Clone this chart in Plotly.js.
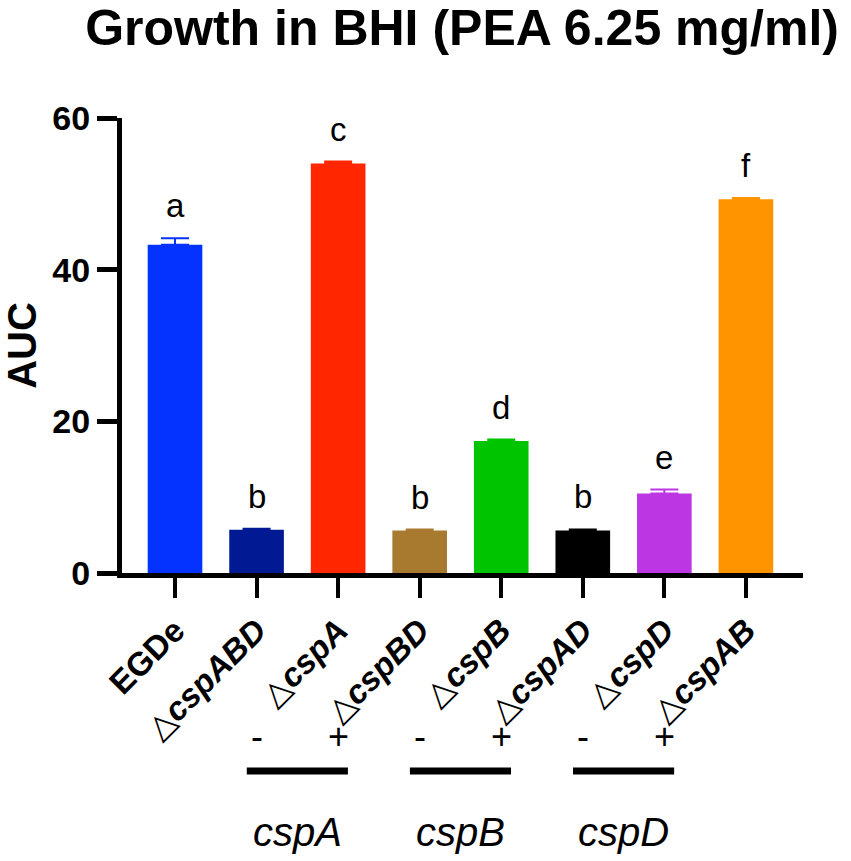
<!DOCTYPE html>
<html>
<head>
<meta charset="utf-8">
<script src="https://cdn.plot.ly/plotly-3.0.1.min.js"></script>
<style>
body { margin: 0; background: #fff; }
#auc-chart { width: 851px; height: 861px; }
</style>
</head>
<body>
<div id="auc-chart"></div>
<script>
const strains = ["EGDe", "ΔcspABD", "ΔcspA", "ΔcspBD", "ΔcspB", "ΔcspAD", "ΔcspD", "ΔcspAB"];
const aucValues = [43.3, 5.7, 54.0, 5.6, 17.4, 5.6, 10.5, 49.3];
const aucErrors = [0.85, 0.15, 0.25, 0.12, 0.2, 0.15, 0.5, 0.15];
const sigLetters = ["a", "b", "c", "b", "d", "b", "e", "f"];
const barColors = ["#0433ff", "#011a93", "#ff2600", "#a87a30", "#00c400", "#000000", "#bc36e3", "#ff9300"];
const tickLabels = [
  "<b>EGDe</b>",
  "△<b><i>cspABD</i></b>",
  "△<b><i>cspA</i></b>",
  "△<b><i>cspBD</i></b>",
  "△<b><i>cspB</i></b>",
  "△<b><i>cspAD</i></b>",
  "△<b><i>cspD</i></b>",
  "△<b><i>cspAB</i></b>"
];
const yTicks = [0, 20, 40, 60];

// complementation groups: gene, strain without (-), strain with (+)
const genes = ["cspA", "cspB", "cspD"];
const minusStrain = [1, 3, 5];
const plusStrain = [2, 4, 6];

const font = "Liberation Sans, Arial, Helvetica, sans-serif";
const xRange = [-0.65, 7.7];

// one trace per bar so each error bar takes its bar's colour
const data = strains.map((s, i) => ({
  x: [s],
  y: [aucValues[i]],
  type: "bar",
  width: 0.67,
  marker: {color: barColors[i], line: {width: 0}},
  error_y: {
    type: "data",
    symmetric: false,
    array: [aucErrors[i]],
    arrayminus: [0],
    color: barColors[i],
    thickness: 2,
    width: 14
  },
  hoverinfo: "x+y",
  showlegend: false
}));

// category index -> paper x
function px(i) {
  return (i - xRange[0]) / (xRange[1] - xRange[0]);
}

const annotations = strains.map((s, i) => ({
  x: s,
  y: aucValues[i] + aucErrors[i],
  xref: "x",
  yref: "y",
  text: sigLetters[i],
  showarrow: false,
  xanchor: "center",
  yanchor: "bottom",
  yshift: 12,
  font: {family: font, size: 33, color: "#000"}
}));

const shapes = [];
genes.forEach((g, k) => {
  annotations.push({
    x: px(minusStrain[k]), y: -0.36, xref: "paper", yref: "paper",
    xanchor: "center", yanchor: "middle",
    text: "-", showarrow: false, font: {family: font, size: 36, color: "#000"}
  });
  annotations.push({
    x: px(plusStrain[k]), y: -0.36, xref: "paper", yref: "paper",
    xanchor: "center", yanchor: "middle",
    text: "+", showarrow: false, font: {family: font, size: 36, color: "#000"}
  });
  annotations.push({
    x: px((minusStrain[k] + plusStrain[k]) / 2), y: -0.569, xref: "paper", yref: "paper",
    xanchor: "center", yanchor: "middle",
    text: "<i>" + g + "</i>", showarrow: false, font: {family: font, size: 40, color: "#000"}
  });
  shapes.push({
    type: "line", xref: "paper", yref: "paper",
    x0: px(minusStrain[k] - 0.12), x1: px(plusStrain[k] + 0.12),
    y0: -0.435, y1: -0.435,
    line: {color: "#000", width: 7}
  });
});

const layout = {
  width: 851,
  height: 861,
  title: {
    text: "<b>Growth in BHI (PEA 6.25 mg/ml)</b>",
    font: {family: font, size: 50, color: "#000"},
    xref: "container", x: 0.543, xanchor: "center",
    yref: "container", y: 0.988, yanchor: "top"
  },
  barmode: "overlay",
  plot_bgcolor: "#fff",
  paper_bgcolor: "#fff",
  margin: {t: 118, l: 122, b: 288, r: 48},
  xaxis: {
    type: "category",
    range: xRange,
    tickvals: strains,
    ticktext: tickLabels,
    tickangle: -45,
    tickfont: {family: font, size: 33, color: "#000"},
    ticks: "outside",
    ticklen: 20,
    tickwidth: 4,
    tickcolor: "#000",
    showline: true,
    linecolor: "#000",
    linewidth: 5,
    showgrid: false,
    zeroline: false,
    fixedrange: true
  },
  yaxis: {
    range: [0, 60],
    tickvals: yTicks,
    ticktext: yTicks.map(t => "<b>" + t + "</b>"),
    tickfont: {family: font, size: 34, color: "#000"},
    ticks: "outside",
    ticklen: 20,
    tickwidth: 5,
    tickcolor: "#000",
    showline: true,
    linecolor: "#000",
    linewidth: 5,
    showgrid: false,
    zeroline: false,
    fixedrange: true,
    title: {text: "<b>AUC</b>", font: {family: font, size: 40, color: "#000"}, standoff: 12}
  },
  annotations: annotations,
  shapes: shapes
};

Plotly.newPlot("auc-chart", data, layout, {displayModeBar: false});
</script>
</body>
</html>
